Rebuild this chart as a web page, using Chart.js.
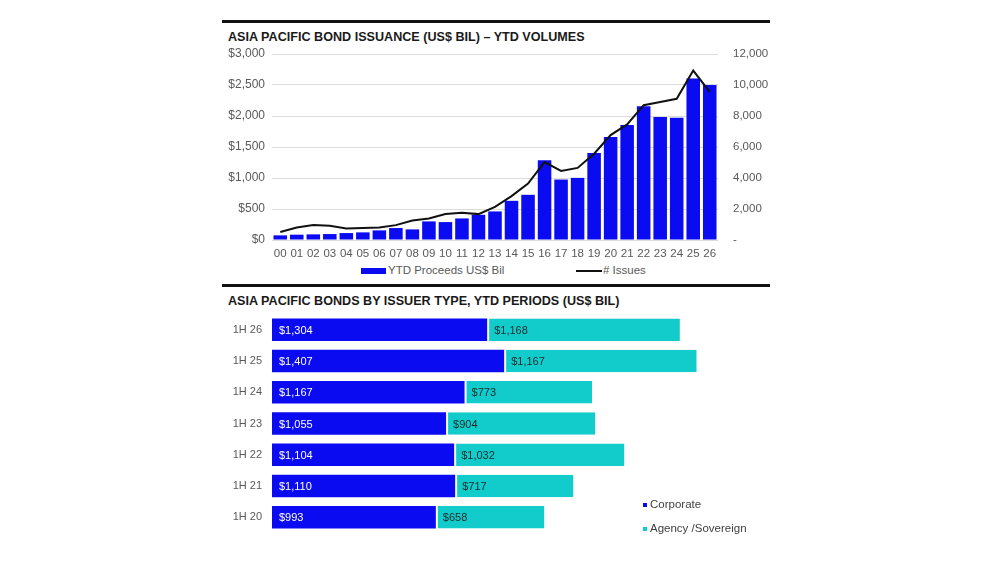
<!DOCTYPE html>
<html>
<head>
<meta charset="utf-8">
<script src="https://cdn.jsdelivr.net/npm/chart.js@4"></script>
<style>
    body { margin: 0; background: #fff; font-family: "Liberation Sans", Arial, sans-serif; }
    .page { position: relative; width: 1000px; height: 563px; }
    .rule { position: absolute; left: 222px; width: 548px; height: 3px; background: #111; }
    .title { position: absolute; left: 228px; font-size: 12.6px; font-weight: bold; color: #1a1a1a; }
    .box { position: absolute; }
    .legend { position: absolute; font-size: 11.5px; color: #404040; line-height: 14px; }
    .legend span { display: inline-block; width: 4px; height: 4px; margin-right: 3px; vertical-align: middle; }
    .key { position: absolute; top: 263px; font-size: 11.5px; color: #595959; line-height: 14px; white-space: nowrap; }
</style>
</head>
<body>
<div class="page">
    <div class="rule" style="top: 20px;"></div>
    <div class="title" style="top: 30px;">ASIA PACIFIC BOND ISSUANCE (US$ BIL) – YTD VOLUMES</div>
    <div class="box" style="left: 222px; top: 40px; width: 548px; height: 222px;">
        <canvas id="volumeChart"></canvas>
    </div>
    <div class="key" style="left: 361px;"><span style="display:inline-block;width:25px;height:6px;background:#0b0bf2;vertical-align:middle;margin-right:2px;"></span>YTD Proceeds US$ Bil</div>
    <div class="key" style="left: 576px;"><span style="display:inline-block;width:26px;height:2px;background:#111;vertical-align:middle;margin-right:1px;"></span># Issues</div>

    <div class="rule" style="top: 284px;"></div>
    <div class="title" style="top: 294px;">ASIA PACIFIC BONDS BY ISSUER TYPE, YTD PERIODS (US$ BIL)</div>
    <div class="box" style="left: 222px; top: 304px; width: 548px; height: 237px;">
        <canvas id="issuerChart"></canvas>
    </div>
    <div class="legend" style="left: 643px; top: 497px;"><span style="background: #0b0bf2;"></span>Corporate</div>
    <div class="legend" style="left: 643px; top: 521px;"><span style="background: #12cccc;"></span>Agency /Sovereign</div>
</div>

<script>
// YTD volumes, 2000 - 2026
const years = ['00', '01', '02', '03', '04', '05', '06', '07', '08', '09', '10', '11', '12', '13',
    '14', '15', '16', '17', '18', '19', '20', '21', '22', '23', '24', '25', '26'];
const proceeds = [75, 86, 91, 96, 112, 123, 155, 193, 171, 300, 289, 348, 407, 461,
    632, 729, 1286, 975, 1002, 1404, 1661, 1854, 2159, 1982, 1971, 2604, 2502];
const issues = [520, 810, 960, 920, 750, 770, 810, 960, 1260, 1390, 1670, 1750, 1670, 2140,
    2830, 3640, 5030, 4460, 4650, 5570, 6770, 7460, 8700, 8910, 9110, 10930, 9560];

// issuer type, YTD periods
const periods = ['1H 26', '1H 25', '1H 24', '1H 23', '1H 22', '1H 21', '1H 20'];
const corporate = [1304, 1407, 1167, 1055, 1104, 1110, 993];
const agency = [1168, 1167, 773, 904, 1032, 717, 658];

const BLUE = '#0b0bf2';
const CYAN = '#12cccc';
const TICK = '#595959';
const FONT = "'Liberation Sans', Arial, sans-serif";

Chart.defaults.font.family = FONT;
Chart.defaults.font.size = 11;
Chart.defaults.color = TICK;
Chart.defaults.animation = false;

function money(v) {
    return '$' + v.toLocaleString('en-US');
}

// tick marks are kept invisible, their length just pushes the labels out
const hiddenTicks = { drawTicks: true, tickColor: 'rgba(0,0,0,0)' };

const volumeCtx = document.getElementById('volumeChart').getContext('2d');
new Chart(volumeCtx, {
    data: {
        labels: years,
        datasets: [{
            type: 'line',
            label: '# Issues',
            data: issues,
            yAxisID: 'y2',
            borderColor: '#111',
            borderWidth: 2,
            pointRadius: 0,
            tension: 0
        }, {
            type: 'bar',
            label: 'YTD Proceeds US$ Bil',
            data: proceeds,
            yAxisID: 'y',
            backgroundColor: BLUE,
            barPercentage: 0.82,
            categoryPercentage: 1
        }]
    },
    options: {
        responsive: true,
        maintainAspectRatio: false,
        layout: { padding: { top: 14, bottom: 0 } },
        plugins: {
            tooltip: { enabled: false },
            legend: { display: false }
        },
        scales: {
            x: {
                grid: { display: false, ...hiddenTicks, tickLength: 0 },
                border: { display: false },
                ticks: { padding: 7, color: TICK, maxRotation: 0, autoSkip: false, font: { size: 11.5 } },
                afterFit: (scale) => { scale.height = 22; }
            },
            y: {
                position: 'left',
                min: 0,
                max: 3000,
                grid: { color: '#dcdcdc', ...hiddenTicks, tickLength: 7 },
                border: { display: false },
                ticks: { stepSize: 500, padding: 0, color: TICK, font: { size: 12 }, callback: (v) => money(v) },
                afterFit: (scale) => { scale.width = 50; }
            },
            y2: {
                position: 'right',
                min: 0,
                max: 12000,
                grid: { display: false, ...hiddenTicks, tickLength: 15 },
                border: { display: false },
                ticks: {
                    stepSize: 2000,
                    padding: 0,
                    color: TICK,
                    font: { size: 11.5 },
                    callback: (v) => v === 0 ? '-' : v.toLocaleString('en-US')
                },
                afterFit: (scale) => { scale.width = 52; }
            }
        }
    }
});

// draws the value inside each bar segment
const barValues = {
    id: 'barValues',
    afterDatasetsDraw(chart) {
        const ctx = chart.ctx;
        ctx.save();
        ctx.font = `11px ${FONT}`;
        ctx.textBaseline = 'middle';
        ctx.textAlign = 'left';
        chart.data.datasets.forEach((ds, i) => {
            const meta = chart.getDatasetMeta(i);
            ctx.fillStyle = ds.labelColor;
            meta.data.forEach((bar, j) => {
                const start = Math.min(bar.x, bar.base);
                ctx.fillText(money(ds.data[j]), start + 7, bar.y + 1);
            });
        });
        ctx.restore();
    }
};

const issuerCtx = document.getElementById('issuerChart').getContext('2d');
new Chart(issuerCtx, {
    type: 'bar',
    data: {
        labels: periods,
        datasets: [{
            label: 'Corporate',
            data: corporate,
            backgroundColor: BLUE,
            labelColor: '#ffffff',
            barPercentage: 0.72,
            categoryPercentage: 1
        }, {
            label: 'Agency /Sovereign',
            data: agency,
            backgroundColor: CYAN,
            borderColor: '#ffffff',
            borderWidth: { left: 2, top: 0, right: 0, bottom: 0 },
            borderSkipped: false,
            labelColor: '#1c2b2b',
            barPercentage: 0.72,
            categoryPercentage: 1
        }]
    },
    options: {
        indexAxis: 'y',
        responsive: true,
        maintainAspectRatio: false,
        layout: { padding: { top: 10, bottom: 8, right: 3 } },
        plugins: {
            tooltip: { enabled: false },
            legend: { display: false }
        },
        scales: {
            x: {
                stacked: true,
                display: false,
                min: 0,
                max: 3000
            },
            y: {
                stacked: true,
                grid: { display: false, ...hiddenTicks, tickLength: 10 },
                border: { display: false },
                ticks: { padding: 0, color: TICK },
                afterFit: (scale) => { scale.width = 50; }
            }
        }
    },
    plugins: [barValues]
});
</script>
</body>
</html>
